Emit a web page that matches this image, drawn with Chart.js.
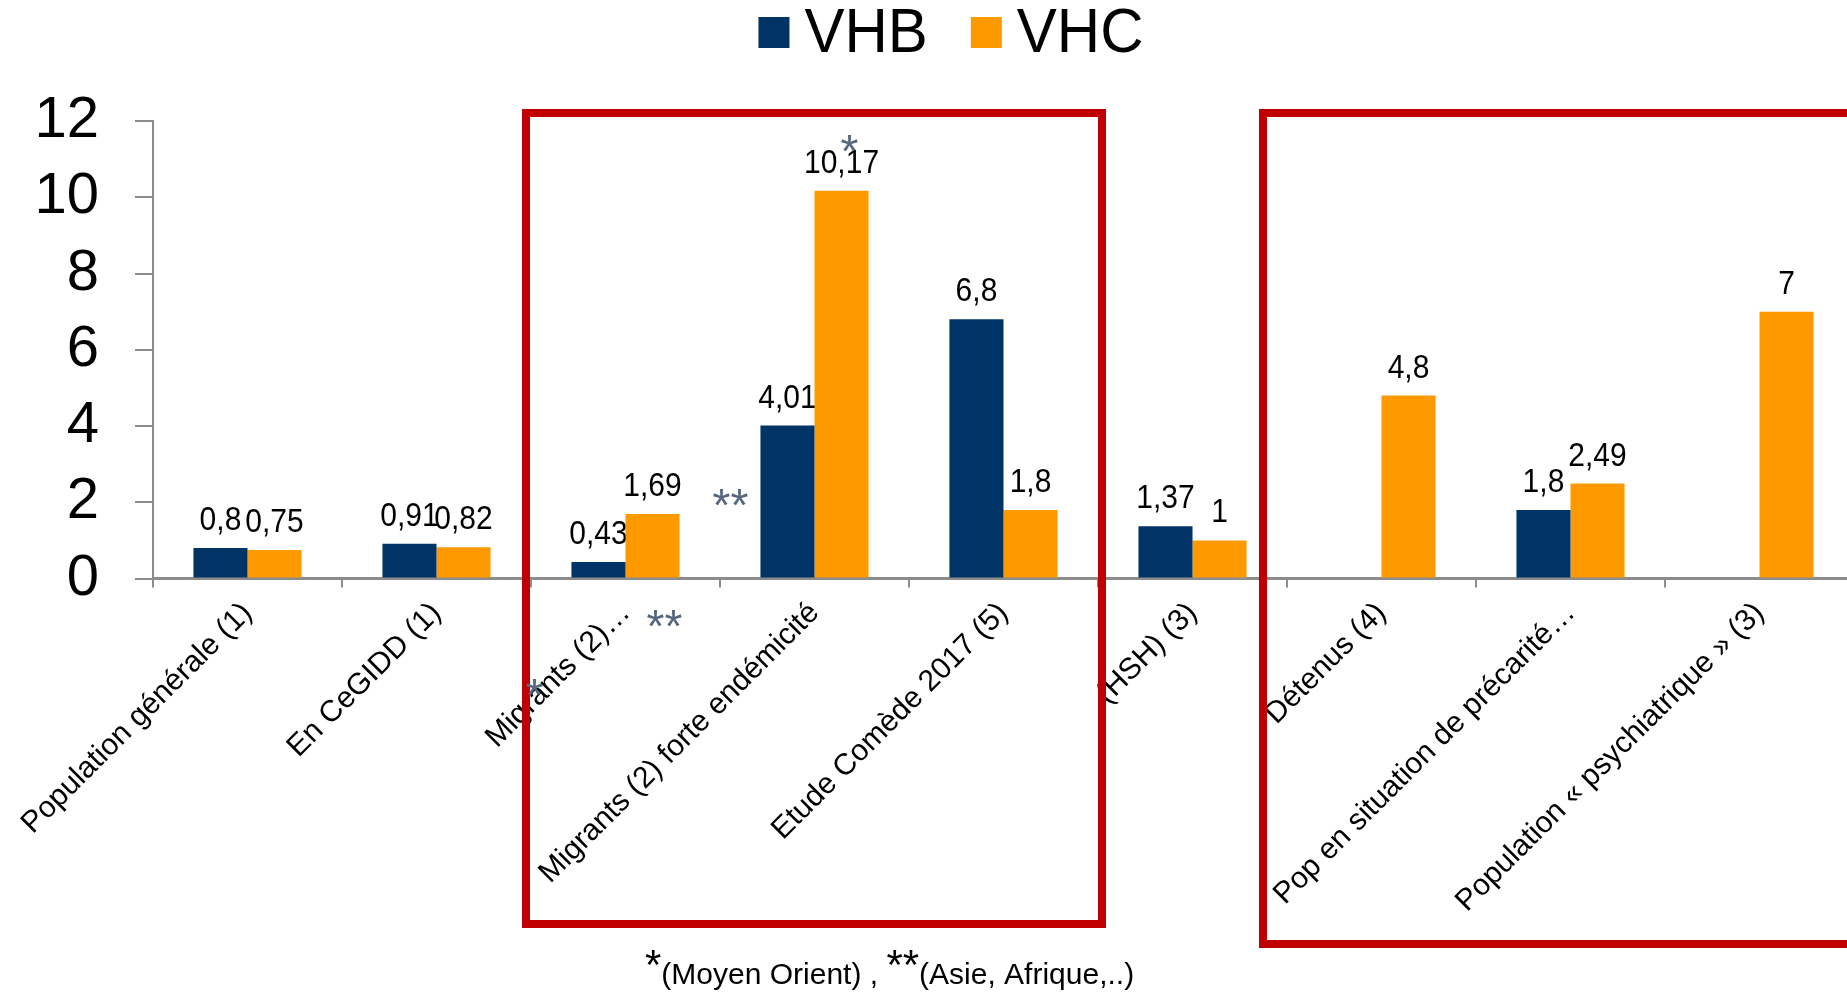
<!DOCTYPE html>
<html>
<head>
<meta charset="utf-8">
<script src="https://cdn.jsdelivr.net/npm/chart.js@4.4.1/dist/chart.umd.min.js"></script>
<style>
    html, body { margin: 0; padding: 0; background: #fff; overflow: hidden; }
    #wrap { width: 1847px; height: 994px; overflow: hidden; position: relative; }
    canvas { display: block; }
</style>
</head>
<body>
<div id="wrap"><canvas id="chart" width="1854" height="994"></canvas></div>
<script>
// ==================== DATA ====================
const categories = [
    'Population générale (1)',
    'En CeGIDD (1)',
    'Migrants (2)…',
    'Migrants (2) forte endémicité',
    'Etude Comède 2017 (5)',
    '(HSH) (3)',
    'Détenus (4)',
    'Pop en situation de précarité…',
    'Population « psychiatrique » (3)'
];
const vhb = [0.8, 0.91, 0.43, 4.01, 6.8, 1.37, null, 1.8, null];
const vhc = [0.75, 0.82, 1.69, 10.17, 1.8, 1, 4.8, 2.49, 7];
const yTicks = [0, 2, 4, 6, 8, 10, 12];

const FONT = '"Liberation Sans", Arial, sans-serif';
const AXIS_GREY = '#8c8c8c';
const NOTE_GREY = '#56677f';

// red frames around groups of categories (first index, last index)
const frames = [
    { from: 2, to: 4, padLeft: 5, padRight: 4, bottom: 924 },
    { from: 6, to: 8, padLeft: 24, padRight: 40, bottom: 944 }
];

// grey asterisks placed next to categories (y = glyph centre)
const notes = [
    { text: '*',  cat: 3, dx: 35,  y: 140 },
    { text: '**', cat: 3, dx: -84, y: 494 },
    { text: '**', cat: 2, dx: 39,  y: 615 },
    { text: '*',  cat: 2, dx: -91, y: 684 }
];

function fmt(v) {
    return String(v).replace('.', ',');
}

// ==================== PLUGINS ====================
const framePlugin = {
    id: 'frames',
    beforeDatasetsDraw(chart) {
        const ctx = chart.ctx;
        const x = chart.scales.x;
        const y = chart.scales.y;
        const half = (x.getPixelForValue(1) - x.getPixelForValue(0)) / 2;
        ctx.save();
        ctx.strokeStyle = '#c00000';
        ctx.lineWidth = 8;
        frames.forEach(f => {
            const left = x.getPixelForValue(f.from) - half - f.padLeft;
            const right = x.getPixelForValue(f.to) + half + f.padRight;
            const top = y.getPixelForValue(12) - 8;
            ctx.strokeRect(left, top, right - left, f.bottom - top);
        });

        // value labels sit behind the bars
        ctx.font = '30px ' + FONT;
        ctx.fillStyle = '#000';
        ctx.textAlign = 'center';
        ctx.textBaseline = 'alphabetic';
        chart.data.datasets.forEach((ds, i) => {
            chart.getDatasetMeta(i).data.forEach((bar, j) => {
                const v = ds.data[j];
                if (v === null || v === undefined) return;
                ctx.save();
                ctx.translate(bar.x, bar.y - 18);
                ctx.scale(1, 1.1);
                ctx.fillText(fmt(v), 0, 0);
                ctx.restore();
            });
        });
        ctx.restore();
    }
};

const notePlugin = {
    id: 'notes',
    afterDatasetsDraw(chart) {
        const ctx = chart.ctx;
        const x = chart.scales.x;
        ctx.save();
        ctx.font = '46px ' + FONT;
        ctx.fillStyle = NOTE_GREY;
        ctx.textAlign = 'center';
        ctx.textBaseline = 'alphabetic';
        notes.forEach(n => {
            ctx.fillText(n.text, x.getPixelForValue(n.cat) + n.dx, n.y + 27);
        });
        ctx.restore();
    }
};

const legendPlugin = {
    id: 'bigLegend',
    afterDraw(chart) {
        const ctx = chart.ctx;
        const box = 31, gap = 15, itemGap = 43;
        ctx.save();
        ctx.font = '60px ' + FONT;
        const items = chart.data.datasets.map(ds => ({
            label: ds.label, color: ds.backgroundColor, w: ctx.measureText(ds.label).width
        }));
        let total = 0;
        items.forEach((it, i) => { total += box + gap + it.w + (i ? itemGap : 0); });
        let cx = 951 - total / 2;
        ctx.textBaseline = 'alphabetic';
        ctx.textAlign = 'left';
        items.forEach(it => {
            ctx.fillStyle = it.color;
            ctx.fillRect(cx, 17, box, box);
            ctx.fillStyle = '#000';
            ctx.save();
            ctx.translate(cx + box + gap, 52);
            ctx.scale(1, 1.05);
            ctx.fillText(it.label, 0, 0);
            ctx.restore();
            cx += box + gap + it.w + itemGap;
        });

        // footnote
        const parts = [
            { t: '*', big: true },
            { t: '(Moyen Orient) , ', big: false },
            { t: '**', big: true },
            { t: '(Asie, Afrique,..)', big: false }
        ];
        let fx = 645;
        ctx.fillStyle = '#000';
        parts.forEach(p => {
            ctx.font = (p.big ? '42px ' : '30px ') + FONT;
            ctx.fillText(p.t, fx, p.big ? 979 : 984);
            fx += ctx.measureText(p.t).width;
        });
        ctx.restore();
    }
};

// ==================== CHART ====================
new Chart(document.getElementById('chart'), {
    type: 'bar',
    data: {
        labels: categories,
        datasets: [
            { label: 'VHB', data: vhb, backgroundColor: '#003366' },
            { label: 'VHC', data: vhc, backgroundColor: '#FF9900' }
        ]
    },
    options: {
        responsive: false,
        animation: false,
        layout: { padding: { top: 121, left: 0, right: 0, bottom: 0 } },
        datasets: { bar: { barPercentage: 1, categoryPercentage: 0.572 } },
        plugins: {
            legend: { display: false },
            tooltip: { enabled: false }
        },
        scales: {
            x: {
                grid: {
                    display: true, drawOnChartArea: false, drawTicks: true,
                    tickLength: 9, color: AXIS_GREY, lineWidth: 2, offset: true
                },
                border: { color: AXIS_GREY, width: 3 },
                ticks: {
                    autoSkip: false, maxRotation: 45, minRotation: 45, padding: 8,
                    color: '#000', font: { size: 30, family: FONT }
                },
                afterFit(scale) { scale.height = 994 - 578.5; }
            },
            y: {
                min: 0, max: 12,
                afterBuildTicks(scale) { scale.ticks = yTicks.map(v => ({ value: v })); },
                ticks: {
                    padding: 36, color: '#000', font: { size: 58, family: FONT },
                    callback: v => String(v)
                },
                grid: { drawOnChartArea: false, tickLength: 18, color: AXIS_GREY, lineWidth: 2 },
                border: { color: AXIS_GREY, width: 2 },
                afterFit(scale) { scale.width = 153; }
            }
        }
    },
    plugins: [framePlugin, notePlugin, legendPlugin]
});
</script>
</body>
</html>
